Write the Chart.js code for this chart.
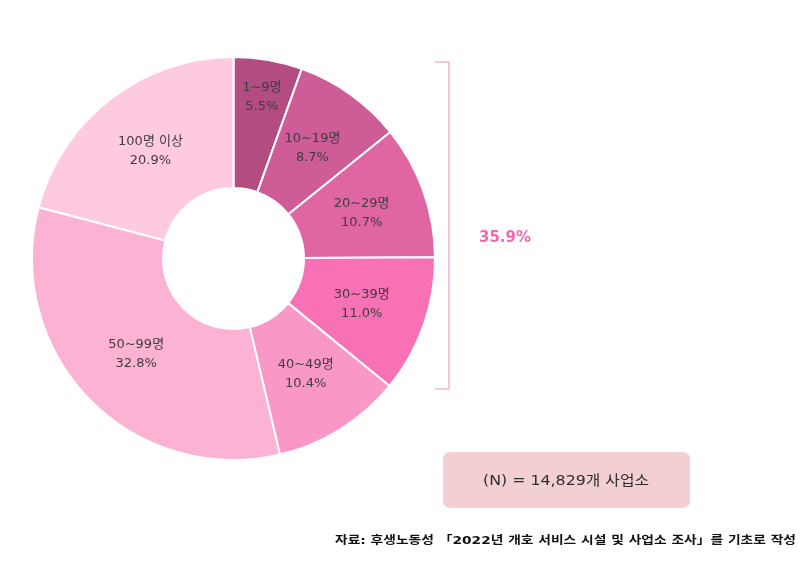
<!DOCTYPE html>
<html>
<head>
<meta charset="utf-8">
<script src="https://cdn.jsdelivr.net/npm/chart.js@4"></script>
<style>
  html, body { margin: 0; padding: 0; background: #fff; }
  #wrap { width: 805px; height: 561px; position: relative; }
</style>
</head>
<body>
<div id="wrap"><canvas id="chart" width="805" height="561"></canvas></div>
<script>
const labels = ['1~9명', '10~19명', '20~29명', '30~39명', '40~49명', '50~99명', '100명 이상'];
const shares = [5.5, 8.7, 10.7, 11.0, 10.4, 32.8, 20.9];
const colors = ['#B34C81', '#CE5C97', '#E066A3', '#F871B4', '#F998C6', '#FCB3D3', '#FDCAE0'];
const bracketText = '35.9%';
const bracketSlices = 4; // first four slices (1~39명)
const totalText = '(N) = 14,829개 사업소';
const sourceText = '자료: 후생노동성 「2022년 개호 서비스 시설 및 사업소 조사」를 기초로 작성';

const KR = '"DejaVu Sans", "Noto Sans CJK KR", sans-serif';

function roundRect(ctx, x, y, w, h, r) {
    ctx.beginPath();
    ctx.moveTo(x + r, y);
    ctx.lineTo(x + w - r, y);
    ctx.quadraticCurveTo(x + w, y, x + w, y + r);
    ctx.lineTo(x + w, y + h - r);
    ctx.quadraticCurveTo(x + w, y + h, x + w - r, y + h);
    ctx.lineTo(x + r, y + h);
    ctx.quadraticCurveTo(x, y + h, x, y + h - r);
    ctx.lineTo(x, y + r);
    ctx.quadraticCurveTo(x, y, x + r, y);
    ctx.closePath();
}

// draw text squeezed/stretched to a given width
function fitText(ctx, text, x, y, width, align) {
    const w = ctx.measureText(text).width;
    const k = width / w;
    ctx.save();
    ctx.textAlign = 'left';
    let left = x;
    if (align === 'right') left = x - width;
    if (align === 'center') left = x - width / 2;
    ctx.translate(left, y);
    ctx.scale(k, 1);
    ctx.fillText(text, 0, 0);
    ctx.restore();
}

const overlay = {
    id: 'overlay',
    afterDraw(chart) {
        const ctx = chart.ctx;
        const arcs = chart.getDatasetMeta(0).data;

        // slice labels, narrow slices pushed outward
        ctx.save();
        ctx.fillStyle = '#3d3d3d';
        ctx.font = '13px ' + KR;
        ctx.textAlign = 'center';
        ctx.textBaseline = 'middle';
        arcs.forEach((arc, i) => {
            const mid = (arc.startAngle + arc.endAngle) / 2;
            const t = shares[i] < 8 ? 0.72 : 0.5;
            const r = arc.innerRadius + (arc.outerRadius - arc.innerRadius) * t;
            const px = arc.x + Math.cos(mid) * r;
            const py = arc.y + Math.sin(mid) * r;
            ctx.fillText(labels[i], px, py - 9);
            ctx.fillText(shares[i].toFixed(1) + '%', px, py + 10);
        });
        ctx.restore();

        // bracket around first slices
        const first = arcs[0];
        const last = arcs[bracketSlices - 1];
        const top = first.y - first.outerRadius + 5;
        const bottom = last.y + Math.sin(last.endAngle) * last.outerRadius + 3;
        const bx = first.x + first.outerRadius + 14;
        ctx.save();
        ctx.strokeStyle = '#F7B3D3';
        ctx.lineWidth = 1.5;
        ctx.beginPath();
        ctx.moveTo(bx - 14, top);
        ctx.lineTo(bx, top);
        ctx.lineTo(bx, bottom);
        ctx.lineTo(bx - 14, bottom);
        ctx.stroke();
        ctx.fillStyle = '#F06AAE';
        ctx.font = 'bold 15px ' + KR;
        ctx.textAlign = 'left';
        ctx.textBaseline = 'middle';
        ctx.fillText(bracketText, bx + 30, (top + bottom) / 2 + 13);
        ctx.restore();

        // N box
        ctx.save();
        ctx.fillStyle = '#F2CFD0';
        roundRect(ctx, 443, 452, 247, 56, 8);
        ctx.fill();
        ctx.fillStyle = '#2f2f2f';
        ctx.font = '14px ' + KR;
        ctx.textBaseline = 'middle';
        fitText(ctx, totalText, 566, 481, 166, 'center');
        ctx.restore();

        // source
        ctx.save();
        ctx.fillStyle = '#111';
        ctx.font = 'bold 11px ' + KR;
        ctx.textBaseline = 'middle';
        fitText(ctx, sourceText, 796, 541, 461, 'right');
        ctx.restore();
    }
};

new Chart(document.getElementById('chart'), {
    type: 'doughnut',
    data: {
        labels: labels,
        datasets: [{
            data: shares,
            backgroundColor: colors,
            borderColor: '#ffffff',
            borderWidth: 2
        }]
    },
    options: {
        responsive: false,
        animation: false,
        devicePixelRatio: 1,
        cutout: '35%',
        layout: {
            padding: { left: 31, top: 56, right: 369, bottom: 100 }
        },
        plugins: {
            legend: { display: false },
            tooltip: { enabled: false }
        }
    },
    plugins: [overlay]
});
</script>
</body>
</html>
